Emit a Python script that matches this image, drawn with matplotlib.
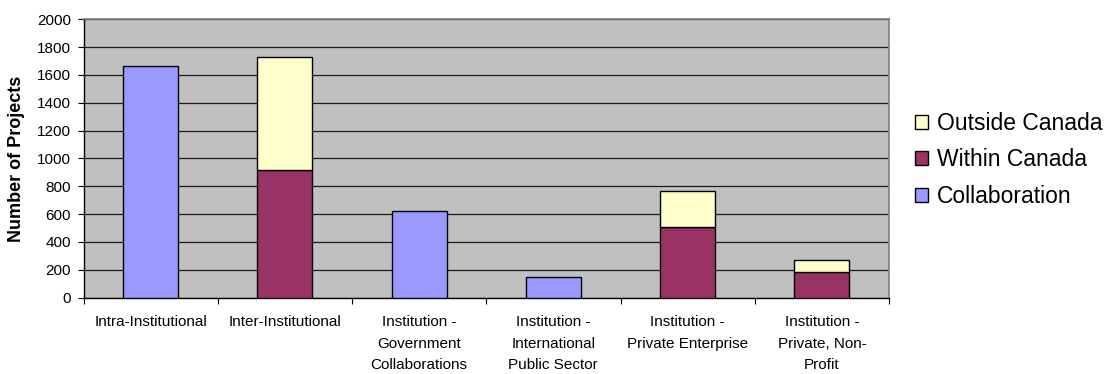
import matplotlib
matplotlib.use("Agg")
import matplotlib.pyplot as plt
import numpy as np
from matplotlib.patches import Patch
from matplotlib.ticker import FixedLocator, NullFormatter

plt.rcParams['font.family'] = ['Liberation Sans', 'DejaVu Sans']

categories = [
    "Intra-Institutional",
    "Inter-Institutional",
    "Institution -\nGovernment\nCollaborations",
    "Institution -\nInternational\nPublic Sector",
    "Institution -\nPrivate Enterprise",
    "Institution -\nPrivate, Non-\nProfit",
]
collaboration = [1665, 0, 625, 150, 0, 0]
within_canada = [0, 915, 0, 0, 505, 185]
outside_canada = [0, 815, 0, 0, 260, 85]

y_ticks = [0, 200, 400, 600, 800, 1000, 1200, 1400, 1600, 1800, 2000]

col_collab = "#9999FF"
col_within = "#993366"
col_outside = "#FFFFCC"

fig = plt.figure(figsize=(11.1, 3.74), dpi=100)
ax = fig.add_axes([83.5 / 1110, 1 - 297.5 / 374, (889 - 83.5) / 1110, (297.5 - 19.3) / 374])
ax.set_facecolor("#C0C0C0")

x = np.arange(len(categories))
w = 0.41
ek = dict(edgecolor="black", linewidth=1.0)
coll = np.array(collaboration)
wc = np.array(within_canada)
oc = np.array(outside_canada)
ax.bar(x, coll, w, color=col_collab, zorder=3, **ek)
ax.bar(x, wc, w, color=col_within, zorder=3, **ek)
ax.bar(x, oc, w, bottom=wc, color=col_outside, zorder=3, **ek)

# hide zero-height bars' edges
for p in ax.patches:
    if p.get_height() == 0:
        p.set_visible(False)

ax.set_xlim(-0.5, len(categories) - 0.5)
ax.set_ylim(0, 2000)
ax.set_yticks(y_ticks)
ax.set_yticklabels([str(v) for v in y_ticks], fontsize=11)
ax.yaxis.grid(True, color="#1a1a1a", linewidth=0.9, zorder=0)
ax.set_axisbelow(True)

# x: boundary ticks as major, labels on minor
ax.xaxis.set_major_locator(FixedLocator(np.arange(-0.5, len(categories), 1.0)))
ax.xaxis.set_major_formatter(NullFormatter())
ax.xaxis.set_minor_locator(FixedLocator(x))
ax.set_xticklabels(categories, minor=True, fontsize=11, linespacing=1.7, va="top")
ax.tick_params(axis="x", which="major", direction="out", length=4, width=0.8, color="black")
ax.tick_params(axis="x", which="minor", length=0, pad=12.5)
ax.tick_params(axis="y", direction="out", length=4, width=0.8, pad=5, color="black")

for s in ["left", "bottom"]:
    ax.spines[s].set_color("black")
    ax.spines[s].set_linewidth(1.0)
for s in ["top", "right"]:
    ax.spines[s].set_color("#808080")
    ax.spines[s].set_linewidth(1.2)

ax.set_ylabel("Number of Projects", fontsize=13, fontweight="bold")
ax.yaxis.set_label_coords((25 - 83.5) / (889 - 83.5), 0.5)

handles = [
    Patch(facecolor=col_outside, edgecolor="black", linewidth=1.0, label="Outside Canada"),
    Patch(facecolor=col_within, edgecolor="black", linewidth=1.0, label="Within Canada"),
    Patch(facecolor=col_collab, edgecolor="black", linewidth=1.0, label="Collaboration"),
]
fig.legend(handles=handles, loc="center left", bbox_to_anchor=(915 / 1110, 1 - 160 / 374),
           frameon=False, fontsize=16.5, handlelength=0.57, handleheight=0.57,
           handletextpad=0.4, labelspacing=0.58, borderpad=0, borderaxespad=0)

fig.savefig("out.png", dpi=100)
